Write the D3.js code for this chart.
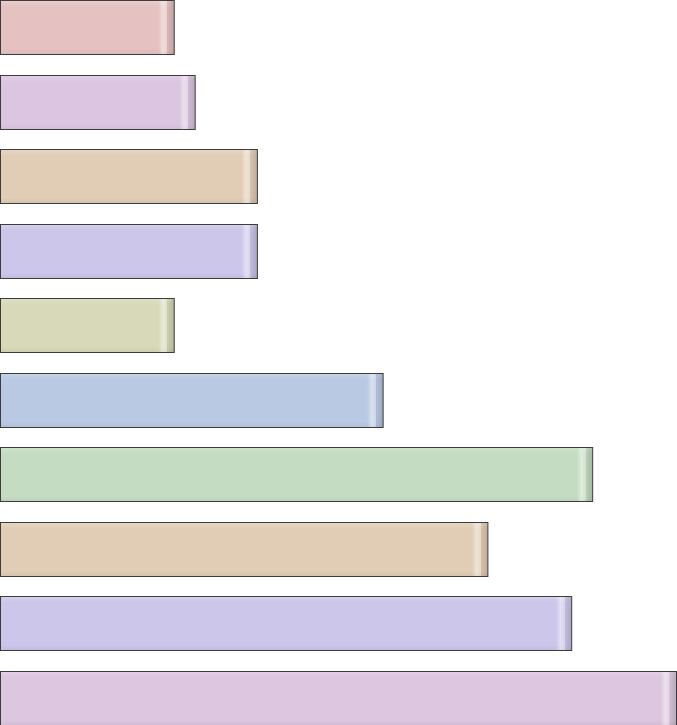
<!DOCTYPE html>
<html><head><meta charset="utf-8">
<script src="https://cdn.jsdelivr.net/npm/d3@7"></script>
<style>html,body{margin:0;padding:0;background:#fff;overflow:hidden}svg{display:block}</style>
</head><body>
<script>
const categories = ["A","B","C","D","E","F","G","H","I","J"];
const values = [25.7, 28.8, 38.0, 38.0, 25.7, 56.6, 87.6, 72.1, 84.5, 100];
const colors = ["#e6c1c1","#dcc5e1","#e1cdb6","#cbc6ea","#d7d9b8","#b9c9e3","#c4dcc1","#e1cdb6","#cbc6ea","#ddc6e0"];

const W = 677, H = 725;
const svg = d3.select("body").append("svg").attr("width", W).attr("height", H);
const defs = svg.append("defs");
const grad = defs.append("linearGradient").attr("id", "cap").attr("x1", 0).attr("x2", 1).attr("y1", 0).attr("y2", 0);
[[0, "#fff", 0], [0.3, "#fff", 0.45], [0.55, "#fff", 0.25], [0.6, "#000", 0.06], [1, "#000", 0.16]]
  .forEach(([o, c, a]) => grad.append("stop").attr("offset", o).attr("stop-color", c).attr("stop-opacity", a));
const vgrad = defs.append("linearGradient").attr("id", "vert").attr("x1", 0).attr("x2", 0).attr("y1", 0).attr("y2", 1);
[[0, "#fff", 0.18], [0.12, "#fff", 0.0], [0.9, "#000", 0.0], [1, "#000", 0.05]]
  .forEach(([o, c, a]) => vgrad.append("stop").attr("offset", o).attr("stop-color", c).attr("stop-opacity", a));

const x = d3.scaleLinear().domain([0, 100]).range([0.5, W - 0.5]);
const y = d3.scaleBand().domain(categories).range([0, H]).paddingInner(0.275).paddingOuter(0);

const g = svg.selectAll("g.bar").data(categories).join("g").attr("class","bar");
g.each(function(c, i) {
  const s = d3.select(this);
  const x0 = x(0), x1 = x(values[i]);
  const y0 = Math.round(y(c)) + 0.5, h = Math.round(y.bandwidth());
  const w = x1 - x0;
  s.append("rect").attr("x", x0).attr("y", y0).attr("width", w).attr("height", h)
    .attr("fill", colors[i]);
  s.append("rect").attr("x", x0).attr("y", y0).attr("width", w).attr("height", h)
    .attr("fill", "url(#vert)");
  s.append("rect").attr("x", x1 - 16).attr("y", y0).attr("width", 16).attr("height", h)
    .attr("fill", "url(#cap)");
  s.append("rect").attr("x", x0).attr("y", y0).attr("width", w).attr("height", h)
    .attr("fill", "none").attr("stroke", "#3c3c3c").attr("stroke-width", 1);
});
</script>
</body></html>
